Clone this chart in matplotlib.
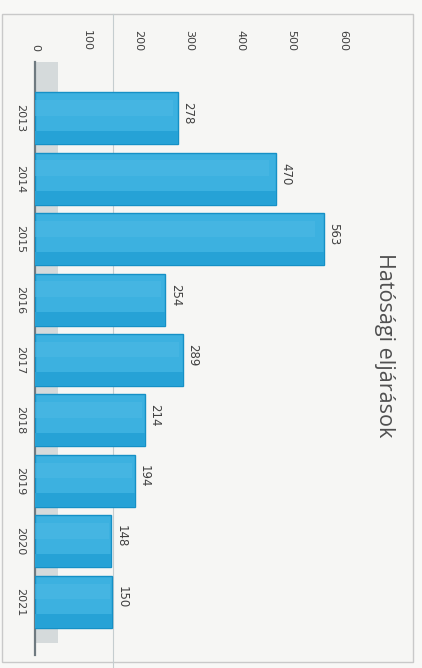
"""Hatósági eljárások – rotated 3D-style column chart, rebuilt as horizontal bars."""
import matplotlib
matplotlib.use("Agg")
import matplotlib.pyplot as plt
from matplotlib.patches import Rectangle
from matplotlib.lines import Line2D

years = ["2013", "2014", "2015", "2016", "2017", "2018", "2019", "2020", "2021"]
cases = [278, 470, 563, 254, 289, 214, 194, 148, 150]
value_ticks = [0, 100, 200, 300, 400, 500, 600]

W, H = 422, 668
fig = plt.figure(figsize=(W / 100, H / 100), dpi=100, facecolor="#f8f8f6")

# chart frame (kept behind the axes)
fig.add_artist(Rectangle((2 / W, 1 - 662 / H), 411 / W, 648 / H, transform=fig.transFigure,
                         fill=True, facecolor="#f6f6f4", edgecolor="#c9c9c9", lw=1.0,
                         zorder=-10))

ax = fig.add_axes([35 / W, 1 - 655 / H, 365 / W, 593 / H])
ax.set_facecolor("none")
ax.set_zorder(2)

pos = list(range(len(years)))
ax.set_ylim(8.88, -0.93)
ax.set_xlim(0, 365 / 0.5133)

# faint fold line from the scanned page
fig.add_artist(Line2D([113 / W, 113 / W], [0, 1 - 14 / H], transform=fig.transFigure,
                      color="#c5cdcf", lw=0.8, zorder=-5))

# grey 3D floor
ax.axvspan(0, 45, ymin=0.02, ymax=1.0, color="#d5dadb", zorder=1, lw=0)

bar_h = 0.86
ax.barh(pos, cases, height=bar_h, color="#3cb1e0", edgecolor="#1590c6", lw=1.0, zorder=3)
# darker depth strip along one side of each bar
ax.barh([p + bar_h * 0.37 for p in pos], cases, height=bar_h * 0.26,
        color="#26a2d6", edgecolor="none", zorder=4)
# lighter highlight strip
ax.barh([p - bar_h * 0.2 for p in pos], [c * 0.97 for c in cases], height=bar_h * 0.3,
        color="#52bbe6", edgecolor="none", zorder=4, alpha=0.45)

for p, c in zip(pos, cases):
    ax.text(c + 19, p - 0.08, str(c), rotation=-90, ha="center", va="center",
            fontsize=8.5, color="#404040", zorder=5)

ax.xaxis.tick_top()
ax.set_xticks(value_ticks)
ax.set_xticklabels([str(v) for v in value_ticks], rotation=-90, fontsize=8, color="#404040")
ax.set_yticks(pos)
ax.set_yticklabels(years, rotation=-90, fontsize=8, color="#404040", va="center")
ax.tick_params(axis="x", length=0, pad=8)
ax.tick_params(axis="y", length=0, pad=7)

for side in ["top", "right", "bottom"]:
    ax.spines[side].set_visible(False)
ax.spines["left"].set_color("#6f7a80")
ax.spines["left"].set_linewidth(1.6)

fig.text(385 / W, 1 - 345 / H, "Hatósági eljárások", rotation=-90, ha="center", va="center",
         fontsize=15.5, color="#505050", family="Open Sans")

fig.savefig("out.png", dpi=100, facecolor=fig.get_facecolor())
